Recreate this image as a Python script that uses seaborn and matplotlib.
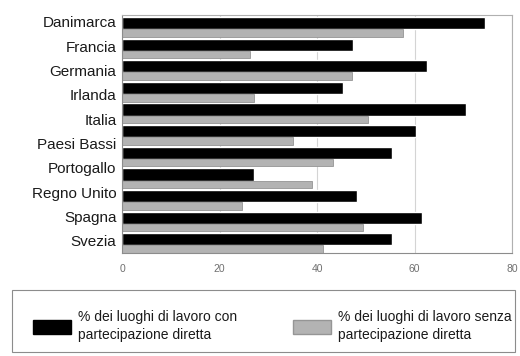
import numpy as np
import pandas as pd
import seaborn as sns
import matplotlib.pyplot as plt
from matplotlib.patches import Patch, Rectangle

# country labels (10) and the bar pairs as they appear in the picture (11)
paesi = ['Danimarca', 'Francia', 'Germania', 'Irlanda', 'Italia', 'Paesi Bassi',
         'Portogallo', 'Regno Unito', 'Spagna', 'Svezia']
con_partecipazione = [74.5, 47.3, 62.5, 45.3, 70.5, 60.4, 55.3, 27.1, 48.2, 61.5, 55.3]
senza_partecipazione = [57.6, 26.3, 47.2, 27.0, 50.5, 35.1, 43.3, 39.0, 24.6, 49.4, 41.2]
serie = ['% dei luoghi di lavoro con\npartecipazione diretta',
         '% dei luoghi di lavoro senza\npartecipazione diretta']
x_ticks = [0, 20, 40, 60, 80]

righe = [str(i) for i in range(len(con_partecipazione))]
df = pd.DataFrame({
    'riga': righe * 2,
    'valore': con_partecipazione + senza_partecipazione,
    'serie': [serie[0]] * len(righe) + [serie[1]] * len(righe),
})

sns.set_style("white")
plt.rcParams['font.family'] = ['Liberation Sans', 'DejaVu Sans']

fig, ax = plt.subplots(figsize=(5.2, 3.56), dpi=100)
ax.set_position([122 / 520, 1 - 253 / 356, 390 / 520, 238 / 356])

colori = ['#000000', '#b3b3b3']
sns.barplot(data=df, y='riga', x='valore', hue='serie', order=righe, hue_order=serie,
            palette=colori, orient='h', width=1.12, saturation=1, legend=False, ax=ax)

# grey bars are thinner and sit just under the black ones
for p in ax.containers[1]:
    p.set_height(0.35)
    p.set_edgecolor('#959595')
    p.set_linewidth(0.6)

ax.set_xlim(0, 80)
ax.set_ylim(10.35, -0.65)
ax.set_xticks(x_ticks)
ax.set_xticklabels([str(t) for t in x_ticks], fontsize=7.5, color='#707070')
ax.set_yticks(np.linspace(-0.33, 9.79, len(paesi)))
ax.set_yticklabels(paesi, fontsize=11, color='#1a1a1a')
ax.tick_params(axis='x', length=0, pad=8)
ax.tick_params(axis='y', length=0, pad=4)
ax.set_xlabel('')
ax.set_ylabel('')

ax.xaxis.grid(True, color='#d4d4d4', lw=0.8)
ax.set_axisbelow(True)
for s in ax.spines.values():
    s.set_color('#b0b0b0')
    s.set_linewidth(0.8)
ax.spines['left'].set_color('#8c8c8c')
ax.spines['bottom'].set_color('#8c8c8c')

# legend box spanning the figure width
fig.patches.append(Rectangle((12 / 520, 4 / 356), 503 / 520, 62 / 356,
                             transform=fig.transFigure, fill=False,
                             edgecolor='#8c8c8c', linewidth=0.8))
handles = [Patch(facecolor=colori[0], edgecolor='#000000'),
           Patch(facecolor=colori[1], edgecolor='#959595')]
leg = fig.legend(handles, serie, loc='center left', ncol=2, mode='expand',
                 bbox_to_anchor=(33 / 520, 0, 479 / 520, 60 / 356),
                 fontsize=10, frameon=False, borderpad=0,
                 handlelength=2.7, handleheight=1.15, handletextpad=0.55,
                 borderaxespad=0)
for t in leg.get_texts():
    t.set_linespacing(1.3)
    t.set_color('#1a1a1a')

plt.savefig("out.png", dpi=100)
